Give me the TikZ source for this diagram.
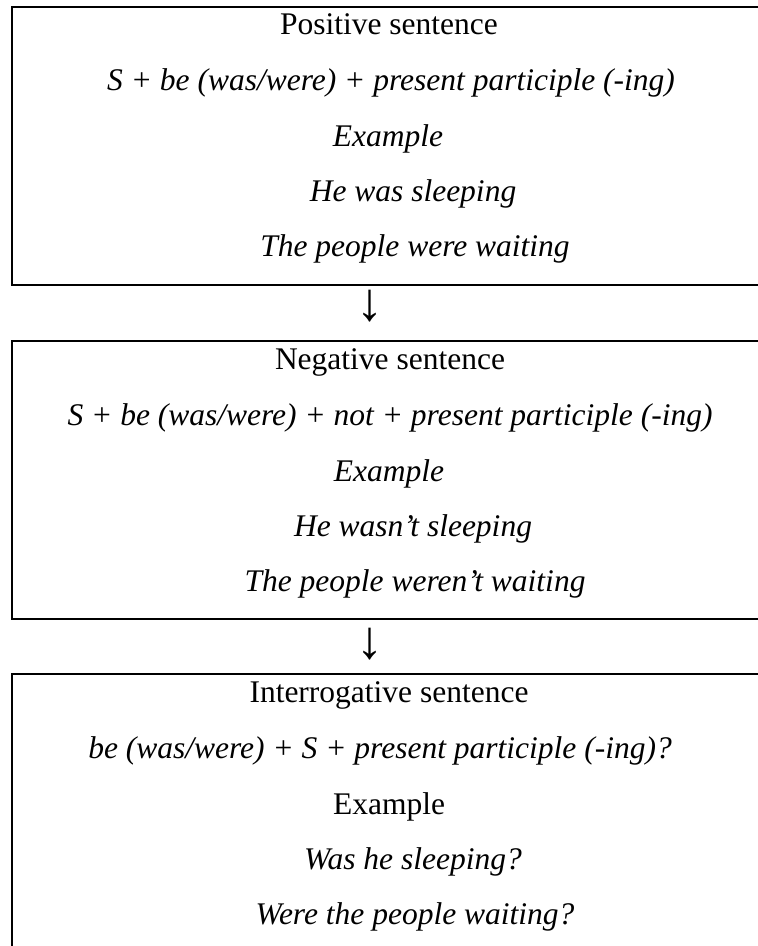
\documentclass[tikz,border=0pt]{standalone}
\usepackage{fontspec}
\setmainfont{Liberation Serif}
\begin{document}
\begin{tikzpicture}[x=0.5pt,y=-0.5pt,
  every node/.style={font=\fontsize{15.75}{19}\selectfont},
  box/.style={draw, line width=1pt, minimum width=377pt, minimum height=139pt, inner sep=0pt},
  line/.style={anchor=base, inner sep=0pt},
  eg/.style={line, font=\fontsize{15.75}{19}\selectfont\itshape},
  down/.style={font=\fontsize{27}{30}\selectfont}]
\useasboundingbox (0,0) rectangle (758,946);
% boxes
\node[box] (positive) at (389,146) {};
\node[box] (negative) at (389,479.5) {};
\node[box] (question) at (389,813) {};
% positive
\node[line] (postitle) at (389,35) {Positive sentence};
\node[eg] (posrule) at (391,91) {S + be (was/were) + present participle (-ing)};
\node[eg] (posex) at (388,147) {Example};
\node[eg] (posa) at (413,202) {He was sleeping};
\node[eg] (posb) at (415,257) {The people were waiting};
% negative
\node[line] (negtitle) at (390,369) {Negative sentence};
\node[eg] (negrule) at (390,425) {S + be (was/were) + not + present participle (-ing)};
\node[eg] (negex) at (389,481) {Example};
\node[eg] (nega) at (413,536) {He wasn’t sleeping};
\node[eg] (negb) at (415,591) {The people weren’t waiting};
% interrogative
\node[line] (qtitle) at (389,702) {Interrogative sentence};
\node[eg] (qrule) at (380,758) {be (was/were) + S + present participle (-ing)?};
\node[line] (qex) at (389,814) {Example};
\node[eg] (qa) at (413,869) {Was he sleeping?};
\node[eg] (qb) at (415,924) {Were the people waiting?};
% arrows
\node[down] (down1) at (370,306) {↓};
\node[down] (down2) at (370,644) {↓};
\end{tikzpicture}
\end{document}
